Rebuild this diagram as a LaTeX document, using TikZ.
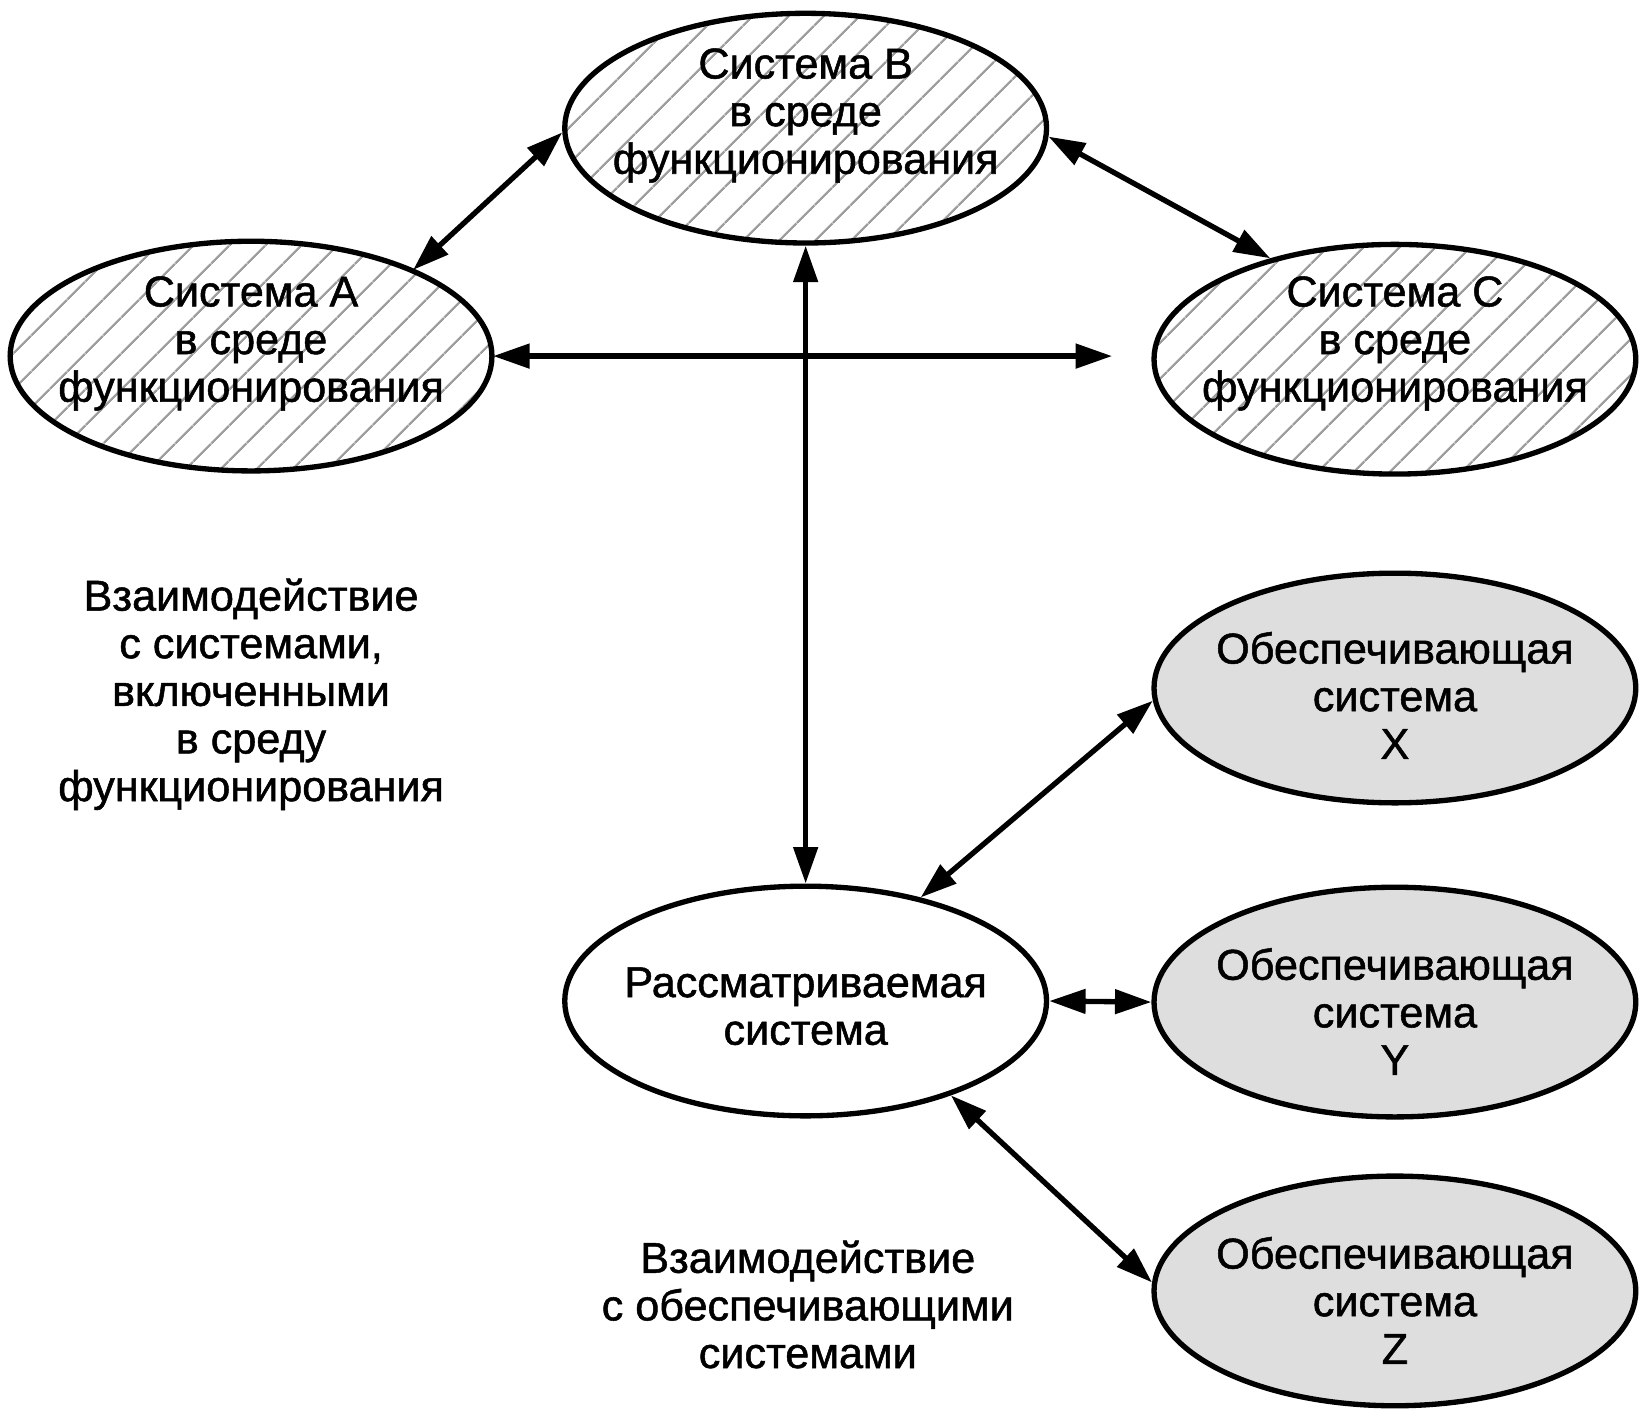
\documentclass[tikz,border=0pt]{standalone}
\usepackage{fontspec}
\setmainfont[FakeBold=1.2,AutoFakeBold=1.2]{Liberation Sans}
\usetikzlibrary{shapes.geometric,arrows.meta,patterns.meta}

\tikzset{
	sysbox/.style={draw, ellipse, line width=3.8pt, minimum width=344pt, minimum height=164pt, inner sep=0pt},
	envsys/.style={sysbox, pattern={Lines[angle=45,distance=18.5pt,line width=1.7pt]}, pattern color=black!38},
	supsys/.style={sysbox, fill=black!13},
	txt/.style={align=center, font=\fontsize{30.8}{34}\selectfont\bfseries},
	link/.style={line width=3.8pt, {Triangle[length=26pt,width=17pt]}-{Triangle[length=26pt,width=17pt]}},
}

\begin{document}
\begin{tikzpicture}[x=0.75pt,y=0.75pt,yscale=-1,xscale=1]
	\useasboundingbox (0,0) rectangle (1568,1349);
	
	%Shape: Ellipse [systems in the environment]
	\node[envsys] (sysA) at (239,339) {};
	\node[envsys] (sysB) at (767,122) {};
	\node[envsys] (sysC) at (1328,342) {};
	%Shape: Ellipse [system of interest]
	\node[sysbox] (sysR) at (767,953) {};
	%Shape: Ellipse [enabling systems]
	\node[supsys] (sysX) at (1328,655) {};
	\node[supsys] (sysY) at (1328,954) {};
	\node[supsys] (sysZ) at (1328,1229) {};
	
	% Text Node
	\node[txt] (lblA) at (239,327) {Система A\\в среде\\функционирования};
	% Text Node
	\node[txt] (lblB) at (767,110) {Система B\\в среде\\функционирования};
	% Text Node
	\node[txt] (lblC) at (1328,327) {Система C\\в среде\\функционирования};
	% Text Node
	\node[txt] (lblR) at (767,958) {Рассматриваемая\\система};
	% Text Node
	\node[txt] (lblX) at (1328,662) {Обеспечивающая\\система\\X};
	% Text Node
	\node[txt] (lblY) at (1328,963) {Обеспечивающая\\система\\Y};
	% Text Node
	\node[txt] (lblZ) at (1328,1238) {Обеспечивающая\\система\\Z};
	
	% Text Node
	\node[txt] (noteEnv) at (239,661) {Взаимодействие\\с системами,\\включенными\\в среду\\функционирования};
	% Text Node
	\node[txt] (noteSup) at (769,1242) {Взаимодействие\\с обеспечивающими\\системами};
	
	%Straight Lines
	\draw[link] (sysA.28) -- (sysB.181);
	\draw[link] (sysB.-2) -- (sysC.141);
	\draw[link] (sysA.east) -- ([xshift=-28] sysA.east -| sysC.west);
	\draw[link] (sysB.south) -- (sysR.north);
	\draw[link] (sysR.42) -- (sysX.183);
	\draw[link] (sysR.east) -- (sysY.west);
	\draw[link] (sysR.-33) -- (sysZ.178);
\end{tikzpicture}
\end{document}
